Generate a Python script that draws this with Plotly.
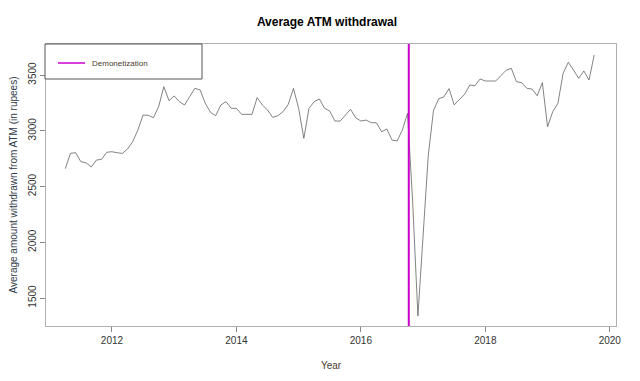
import plotly.graph_objects as go

start_year = 2011
start_month = 4  # April 2011
withdrawal = [
    # 2011 Apr-Dec
    2660, 2798, 2803, 2722, 2713, 2675, 2737, 2744, 2807,
    # 2012
    2812, 2803, 2797, 2836, 2902, 3007, 3141, 3138, 3117, 3216, 3395, 3270,
    # 2013
    3312, 3261, 3231, 3306, 3381, 3366, 3246, 3165, 3135, 3231, 3261, 3201,
    # 2014
    3201, 3147, 3147, 3147, 3297, 3231, 3186, 3120, 3135, 3171, 3237, 3380,
    # 2015
    3201, 2932, 3201, 3261, 3285, 3201, 3177, 3087, 3087, 3141, 3192, 3117,
    # 2016
    3087, 3096, 3072, 3072, 2991, 3016, 2917, 2908, 3007, 3156, 2350, 1340,
    # 2017
    2050, 2780, 3180, 3287, 3303, 3378, 3232, 3276, 3327, 3410, 3404, 3464,
    # 2018
    3446, 3446, 3446, 3494, 3542, 3560, 3440, 3431, 3381, 3374, 3314, 3431,
    # 2019 Jan-Oct
    3036, 3171, 3246, 3515, 3614, 3545, 3470, 3536, 3455, 3680,
]
time = [start_year + (start_month - 1 + i) / 12 for i in range(len(withdrawal))]
demonetization_x = 2016.77
x_ticks = [2012, 2014, 2016, 2018, 2020]
y_ticks = [1500, 2000, 2500, 3000, 3500]

fig = go.Figure()
fig.add_trace(go.Scatter(x=time, y=withdrawal, mode="lines",
                         line=dict(color="#4d4d4d", width=0.7),
                         showlegend=False, hoverinfo="x+y"))
fig.add_vline(x=demonetization_x, line=dict(color="#cc00cc", width=2))

# page body has an 8px default margin; compensate
OFF = 8
FW, FH = 640, 381
L, R, T, B = 46 - OFF, 616 - OFF, 44 - OFF, 326 - OFF
W, H = R - L, B - T
def px(x):
    return (x - OFF - L) / W
def py(y):
    return 1 - (y - OFF - T) / H

# legend box (R-style)
fig.add_shape(type="rect", xref="paper", yref="paper",
              x0=px(45), x1=px(202), y0=py(79), y1=py(44),
              line=dict(color="#555555", width=1), fillcolor="white", layer="above")
fig.add_shape(type="line", xref="paper", yref="paper",
              x0=px(58), x1=px(85), y0=py(63), y1=py(63),
              line=dict(color="#cc00cc", width=1.5), layer="above")
fig.add_annotation(xref="paper", yref="paper", x=px(90), y=py(63),
                   text="Demonetization", showarrow=False, xanchor="left",
                   yanchor="middle", font=dict(size=8, color="#4a3b2f"))

font_family = "Liberation Sans, Arial, sans-serif"
fig.update_layout(
    width=FW, height=FH,
    margin=dict(l=L, r=FW - R, t=T, b=FH - B),
    paper_bgcolor="white", plot_bgcolor="white",
    font=dict(family=font_family, color="#333333"),
    title=dict(text="<b>Average ATM withdrawal</b>", x=(327 - OFF) / FW,
               xanchor="center", y=1 - (22 - OFF) / FH, yanchor="middle",
               font=dict(size=12, color="#000000")),
    xaxis=dict(range=[2010.94, 2020.10], tickvals=x_ticks,
               ticktext=[str(v) for v in x_ticks], automargin=False,
               showgrid=False, zeroline=False, showline=True, mirror=True,
               linecolor="#b0b0b0", linewidth=1, ticks="outside", ticklen=5,
               tickcolor="#888888", tickfont=dict(size=10, color="#333333"),
               title=dict(text="Year", font=dict(size=10, color="#4a3b2f"),
                          standoff=16)),
    yaxis=dict(range=[1249, 3778], tickvals=y_ticks, automargin=False,
               showgrid=False, zeroline=False, showline=True, mirror=True,
               linecolor="#b0b0b0", linewidth=1, ticks="outside", ticklen=5,
               tickcolor="#888888", tickangle=-90,
               tickfont=dict(size=10, color="#333333"),
               title=dict(text="Average amount withdrawn from ATM (in rupees)",
                          font=dict(size=10, color="#2f3b4a"), standoff=8)),
)

fig.write_html("out.html")
